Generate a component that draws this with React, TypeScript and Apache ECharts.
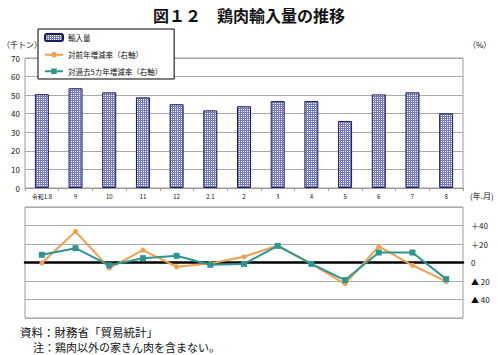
import React, { useEffect, useRef } from "react";
import * as echarts from "echarts";

const categories = ["令和1.8", "9", "10", "11", "12", "2.1", "2", "3", "4", "5", "6", "7", "8"];
const importVolume = [50.5, 53.7, 51.5, 48.8, 45.1, 41.8, 44.0, 46.8, 46.8, 36.1, 50.4, 51.5, 40.2];
const yoyChange = [-0.5, 33.5, -6, 13.4, -4.6, -1, 6.2, 18.4, -1.5, -23, 17.3, -3, -20.5];
const fiveYearChange = [8.3, 15.5, -3, 4.7, 7.2, -2.5, -1.5, 18, -1.5, -19, 10.8, 10.8, -18];
const rightTickLabels: Record<string, string> = { "40": "＋40", "20": "＋20", "0": "0", "-20": "▲ 20", "-40": "▲ 40" };

const JP = '"Noto Sans CJK JP", "Noto Sans", sans-serif';

export default function App() {
  const ref = useRef<HTMLDivElement>(null);
  useEffect(() => {
    if (!ref.current) return;
    const chart = echarts.init(ref.current, undefined, { renderer: "svg" });
    const cv = document.createElement("canvas");
    cv.width = 2;
    cv.height = 2;
    const ctx = cv.getContext("2d")!;
    ctx.fillStyle = "#ffffff";
    ctx.fillRect(0, 0, 2, 2);
    ctx.fillStyle = "#7479c8";
    ctx.fillRect(0, 0, 2, 1);
    ctx.fillRect(0, 0, 1, 2);
    const pattern: any = { image: cv, repeat: "repeat", imageWidth: 2, imageHeight: 2 };

    chart.setOption({
      animation: false,
      backgroundColor: "#ffffff",
      textStyle: { fontFamily: JP },
      title: {
        text: "図１２　鶏肉輸入量の推移",
        left: "center",
        top: 2,
        textStyle: { fontFamily: JP, fontSize: 16, fontWeight: "bold", color: "#111" },
      },
      legend: {
        orient: "vertical",
        left: 38,
        top: 29,
        backgroundColor: "#ffffff",
        borderColor: "#000",
        borderWidth: 1,
        padding: [4, 12, 4, 6],
        itemGap: 9,
        itemWidth: 18,
        itemHeight: 7,
        textStyle: { fontSize: 7.5, color: "#111", fontFamily: JP },
        lineStyle: { type: "dashed" },
        data: ["輸入量", "対前年増減率（右軸）", "対過去5カ年増減率（右軸）"],
      },
      grid: [
        { left: 25, right: 35, top: 58, height: 130, show: true, borderColor: "#999", borderWidth: 1 },
        { left: 25, right: 35, top: 207, height: 111, show: true, borderColor: "#999", borderWidth: 1 },
      ],
      xAxis: [
        {
          type: "category",
          gridIndex: 0,
          data: categories,
          axisLine: { lineStyle: { color: "#999" } },
          axisTick: { show: true, interval: 0, length: 3, lineStyle: { color: "#999" } },
          axisLabel: { fontSize: 6, color: "#111", interval: 0, margin: 5 },
        },
        {
          type: "category",
          gridIndex: 1,
          data: categories,
          axisLine: { onZero: true, lineStyle: { color: "#000", width: 2.5 } },
          axisTick: { show: false },
          axisLabel: { show: false },
        },
      ],
      yAxis: [
        {
          type: "value",
          gridIndex: 0,
          min: 0,
          max: 70,
          interval: 10,
          axisLine: { show: false },
          axisTick: { show: false },
          axisLabel: { fontSize: 8, color: "#111", margin: 5 },
          splitLine: { lineStyle: { color: "#aaa" } },
        },
        {
          type: "value",
          gridIndex: 1,
          position: "right",
          min: -60,
          max: 60,
          interval: 20,
          axisLine: { show: false },
          axisTick: { show: false },
          axisLabel: {
            fontSize: 8,
            color: "#111",
            margin: 8,
            formatter: (v: number) => rightTickLabels[String(v)] ?? "",
          },
          splitLine: { lineStyle: { color: "#aaa" } },
        },
      ],
      series: [
        {
          name: "輸入量",
          type: "bar",
          xAxisIndex: 0,
          yAxisIndex: 0,
          data: importVolume,
          barWidth: 14,
          itemStyle: { color: pattern, borderColor: "#1c1c55", borderWidth: 1 },
        },
        {
          name: "対前年増減率（右軸）",
          type: "line",
          xAxisIndex: 1,
          yAxisIndex: 1,
          data: yoyChange,
          symbol: "circle",
          symbolSize: 5,
          lineStyle: { color: "#f0a050", width: 2 },
          itemStyle: { color: "#f0a050" },
        },
        {
          name: "対過去5カ年増減率（右軸）",
          type: "line",
          xAxisIndex: 1,
          yAxisIndex: 1,
          data: fiveYearChange,
          symbol: "rect",
          symbolSize: 6,
          lineStyle: { color: "#2e9690", width: 2 },
          itemStyle: { color: "#2e9690" },
        },
      ],
      graphic: [
        { type: "text", left: 2, top: 40, style: { text: "（千トン）", fontSize: 8, fill: "#111", fontFamily: JP } },
        { type: "text", left: 468, top: 40, style: { text: "（%）", fontSize: 8, fill: "#111", fontFamily: JP } },
        { type: "text", left: 470, top: 191, style: { text: "(年.月)", fontSize: 8, fill: "#111", fontFamily: JP } },
        { type: "text", left: 20, top: 326, style: { text: "資料：財務省「貿易統計」", fontSize: 11.5, fill: "#111", fontFamily: JP } },
        { type: "text", left: 33, top: 341, style: { text: "注：鶏肉以外の家きん肉を含まない。", fontSize: 11, fill: "#111", fontFamily: JP } },
      ],
    });
    return () => chart.dispose();
  }, []);
  return <div ref={ref} style={{ width: 498, height: 355, position: "absolute", left: 0, top: 0 }} />;
}
